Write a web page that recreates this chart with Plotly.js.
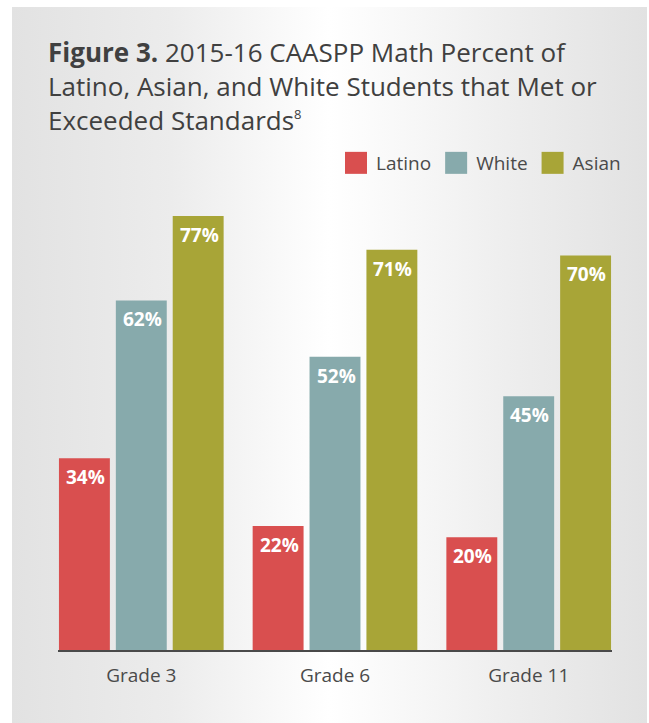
<!DOCTYPE html>
<html>
<head>
<meta charset="utf-8">
<script src="https://cdn.plot.ly/plotly-3.0.1.min.js"></script>
<style>
  html, body { margin:0; padding:0; background:#ffffff; }
  #wrap { position:relative; width:649px; height:723px; overflow:hidden; }
  #panel { position:absolute; left:12px; top:7px; width:635px; height:716px;
           background:linear-gradient(to right, #e2e2e2 0%, #ececec 25%, #ffffff 50%, #eeeeee 78%, #e2e2e2 100%); }
  #chart { position:absolute; left:0; top:0; width:649px; height:723px; }
</style>
</head>
<body>
<div id="wrap"><div id="panel"></div><div id="chart"></div></div>
<script>
const categories = ['Grade 3', 'Grade 6', 'Grade 11'];
const seriesNames = ['Latino', 'White', 'Asian'];
const latino = [34, 22, 20];
const white = [62, 52, 45];
const asian = [77, 71, 70];
const seriesValues = [latino, white, asian];
const seriesColors = ['#d94f4f', '#87aaac', '#a8a537'];

const FONT = '"Open Sans", "Noto Sans", sans-serif';

const traces = seriesNames.map((name, s) => ({
  type: 'bar',
  name: name,
  x: categories,
  y: seriesValues[s],
  marker: { color: seriesColors[s], line: { width: 0 } },
  hoverinfo: 'none'
}));

const slot = 0.294;
const annotations = [];
seriesValues.forEach((vals, s) => {
  vals.forEach((v, i) => {
    annotations.push({
      xref: 'x', yref: 'y',
      x: i + (s - 1) * slot, y: v,
      xanchor: 'center', yanchor: 'top',
      yshift: -4, xshift: 1,
      text: '<b>' + v + '%</b>',
      showarrow: false,
      font: { family: FONT, size: 19, color: '#ffffff' }
    });
  });
});

const layout = {
  width: 649, height: 723,
  paper_bgcolor: 'rgba(0,0,0,0)',
  plot_bgcolor: 'rgba(0,0,0,0)',
  margin: { l: 58, r: 37, t: 199, b: 73 },
  barmode: 'group',
  bargap: 0.119,
  bargroupgap: 0.105,
  showlegend: true,
  title: {
    text: '<b>Figure 3.</b> 2015-16 CAASPP Math Percent of<br>Latino, Asian, and White Students that Met or<br>Exceeded Standards<sup><span style="font-size:13px">8</span></sup>',
    xref: 'container', yref: 'container',
    x: 48 / 649, xanchor: 'left',
    y: 1 - 62 / 723, yanchor: 'top',
    font: { family: FONT, size: 26, color: '#404040' }
  },
  legend: {
    orientation: 'h',
    xref: 'container', yref: 'container',
    x: 626 / 649, xanchor: 'right',
    y: 1 - 163 / 723, yanchor: 'middle',
    font: { family: FONT, size: 19, color: '#4a4a4a' },
    bgcolor: 'rgba(0,0,0,0)',
    itemclick: false, itemdoubleclick: false,
    traceorder: 'normal'
  },
  xaxis: {
    type: 'category',
    range: [-0.43, 2.43],
    showline: true, linecolor: '#4a4a4a', linewidth: 2,
    showgrid: false, zeroline: false,
    ticks: '',
    ticklabelstandoff: 7,
    tickfont: { family: FONT, size: 19, color: '#4a4a4a' },
    fixedrange: true
  },
  yaxis: {
    range: [0, 80],
    visible: false,
    showgrid: false, zeroline: false,
    fixedrange: true
  },
  annotations: annotations
};

Plotly.newPlot('chart', traces, layout, { displayModeBar: false, staticPlot: true }).then(() => {
  document.querySelectorAll('.legendpoints path').forEach(p => {
    p.setAttribute('d', 'M11,11H-11V-11H11Z');
  });
});
</script>
</body>
</html>
